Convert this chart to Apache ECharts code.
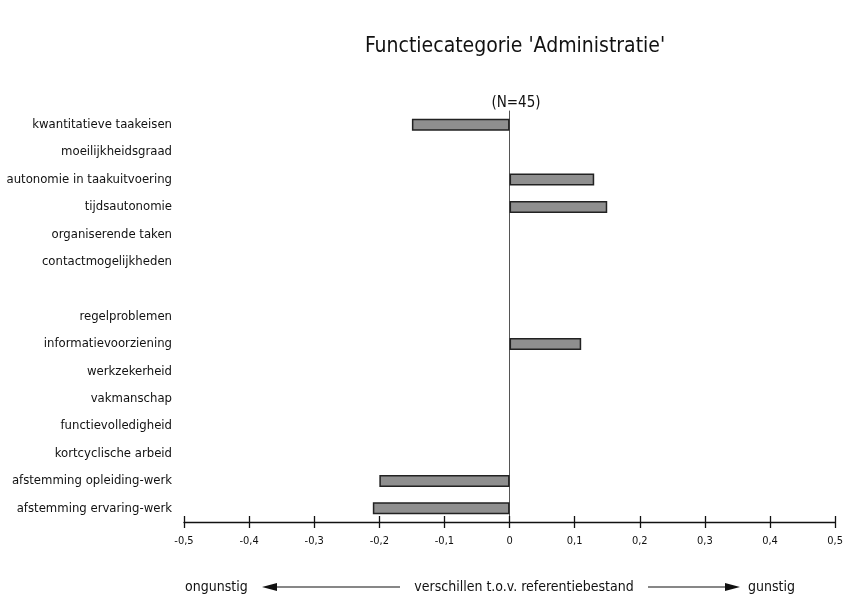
<!DOCTYPE html>
<html><head><meta charset="utf-8">
<script src="https://cdn.jsdelivr.net/npm/echarts@6/dist/echarts.min.js"></script>
<style>html,body{margin:0;padding:0;background:#fff}#c{width:846px;height:597px}</style>
</head><body><div id="c"></div>
<script>
const categories = ['kwantitatieve taakeisen','moeilijkheidsgraad','autonomie in taakuitvoering','tijdsautonomie','organiserende taken','contactmogelijkheden','','regelproblemen','informatievoorziening','werkzekerheid','vakmanschap','functievolledigheid','kortcyclische arbeid','afstemming opleiding-werk','afstemming ervaring-werk'];
const values = [-0.15, null, 0.13, 0.15, null, null, null, null, 0.11, null, null, null, null, -0.20, -0.21];
const titleText = "Functiecategorie 'Administratie'";
const subText = "(N=45)";
const footLeft = 'ongunstig';
const footMid = 'verschillen t.o.v. referentiebestand';
const footRight = 'gunstig';

const FONT = '"DejaVu Sans Condensed","Liberation Sans Narrow",sans-serif';
const chart = echarts.init(document.getElementById('c'));
const fmt = v => (Math.abs(v) < 1e-9 ? '0' : (Math.round(v*10)/10).toString().replace('.', ','));
const txt = (x, y, s, align) => ({type: 'text', x: x, y: y, style: {text: s, fontFamily: FONT, fontSize: 14, fill: '#111', align: align, verticalAlign: 'middle'}});
const FY = 587;
chart.setOption({
  animation: false,
  title: [
    {text: titleText, left: 510, top: 31, textAlign: 'center', textStyle: {fontFamily: FONT, fontSize: 21, fontWeight: 'normal', color: '#111'}},
    {text: subText, left: 511, top: 91, textAlign: 'center', textStyle: {fontFamily: FONT, fontSize: 15, fontWeight: 'normal', color: '#111'}}
  ],
  grid: {left: 184, right: 10, top: 111, height: 411},
  xAxis: [
    {type: 'value', min: -0.5, max: 0.5, interval: 0.1, position: 'bottom',
     splitLine: {show: false},
     axisLine: {show: true, onZero: false, lineStyle: {color: '#111', width: 1.3}},
     axisTick: {show: true, length: 6, lineStyle: {color: '#111', width: 1.3}},
     axisLabel: {margin: 14, fontFamily: FONT, fontSize: 11, color: '#111', formatter: fmt}},
    {type: 'value', min: -0.5, max: 0.5, interval: 0.1, position: 'bottom',
     splitLine: {show: false},
     axisLine: {show: false, onZero: false},
     axisTick: {show: true, inside: true, length: 6, lineStyle: {color: '#111', width: 1.3}},
     axisLabel: {show: false}}
  ],
  yAxis: {type: 'category', data: categories, inverse: true,
    axisLine: {show: true, onZero: true, lineStyle: {color: '#555', width: 1}},
    axisTick: {show: false},
    axisLabel: {margin: 12, fontFamily: FONT, fontSize: 13, color: '#111'}},
  series: [{type: 'bar', data: values, barWidth: 12, xAxisIndex: 0,
    itemStyle: {color: '#8f8f8f', borderColor: '#222', borderWidth: 1.5}}],
  graphic: [
    txt(185, FY, footLeft, 'left'),
    {type: 'line', shape: {x1: 272, y1: FY, x2: 400, y2: FY}, style: {stroke: '#111', lineWidth: 1.2}},
    {type: 'polygon', shape: {points: [[262, FY], [277, FY-4], [277, FY+4]]}, style: {fill: '#111'}},
    txt(524, FY, footMid, 'center'),
    {type: 'line', shape: {x1: 648, y1: FY, x2: 726, y2: FY}, style: {stroke: '#111', lineWidth: 1.2}},
    {type: 'polygon', shape: {points: [[740, FY], [725, FY-4], [725, FY+4]]}, style: {fill: '#111'}},
    txt(748, FY, footRight, 'left')
  ]
});
</script></body></html>
